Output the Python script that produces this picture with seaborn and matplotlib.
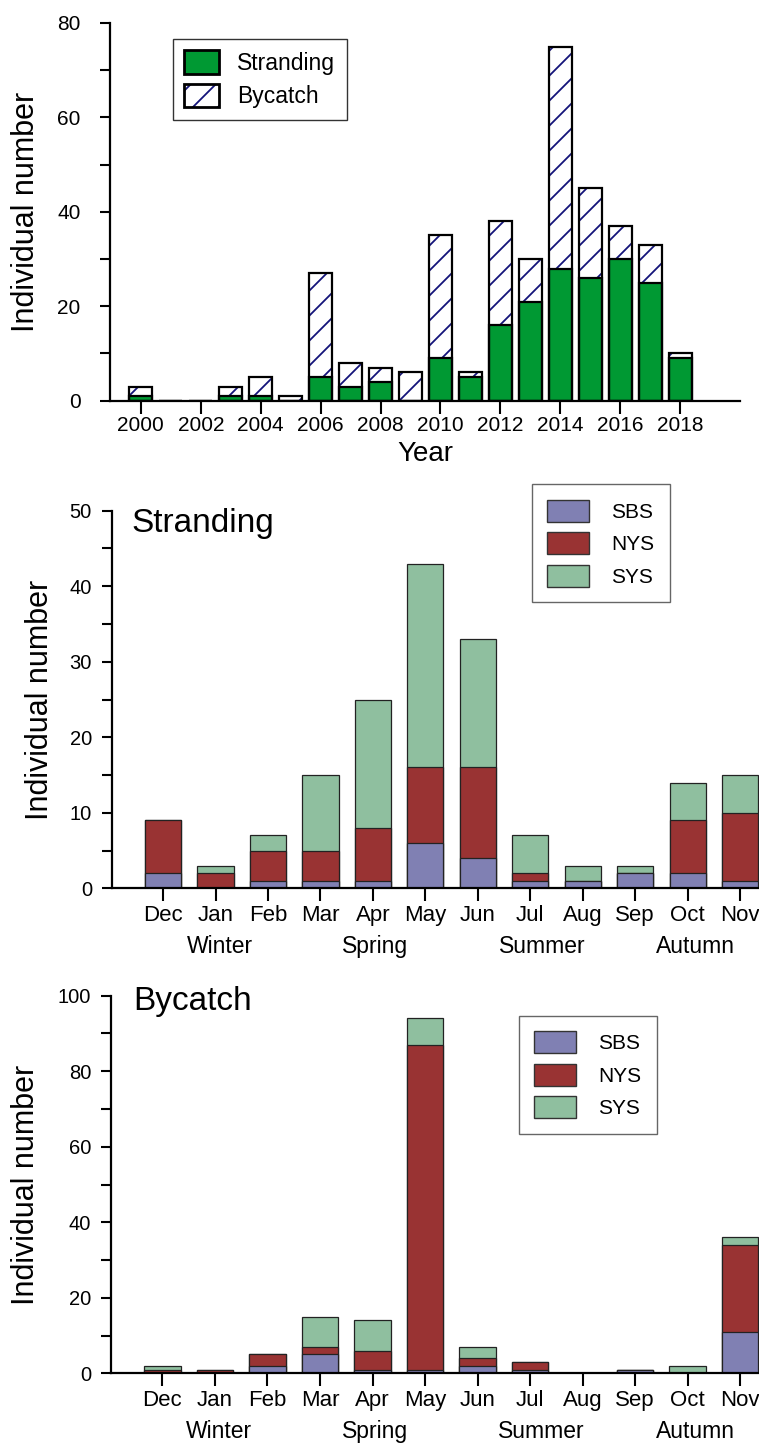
import matplotlib
matplotlib.use("Agg")
import matplotlib.pyplot as plt
import matplotlib.transforms as mtransforms
import matplotlib.hatch as mhatch
from matplotlib.patches import Patch
import pandas as pd
import seaborn as sns

# ---------------- data ----------------
years = list(range(2000, 2019))
stranding_by_year = [1, 0, 0, 1, 1, 0, 5, 3, 4, 0, 9, 5, 16, 21, 28, 26, 30, 25, 9]
bycatch_by_year = [2, 0, 0, 2, 4, 1, 22, 5, 3, 6, 26, 1, 22, 9, 47, 19, 7, 8, 1]

months = ["Dec", "Jan", "Feb", "Mar", "Apr", "May", "Jun", "Jul", "Aug", "Sep", "Oct", "Nov"]
seasons = ["Winter", "Spring", "Summer", "Autumn"]
season_pos = [1.08, 4.04, 7.22, 10.15]
regions = ["SBS", "NYS", "SYS"]

strand_sbs = [2, 0, 1, 1, 1, 6, 4, 1, 1, 2, 2, 1]
strand_nys = [7, 2, 4, 4, 7, 10, 12, 1, 0, 0, 7, 9]
strand_sys = [0, 1, 2, 10, 17, 27, 17, 5, 2, 1, 5, 5]

bycatch_sbs = [0, 0, 2, 5, 1, 1, 2, 1, 0, 1, 0, 11]
bycatch_nys = [1, 1, 3, 2, 5, 86, 2, 2, 0, 0, 0, 23]
bycatch_sys = [1, 0, 0, 8, 8, 7, 3, 0, 0, 0, 2, 2]

# ---------------- style ----------------
GREEN = "#009933"
HATCH_C = "#14147a"
REGION_COLORS = {"SBS": "#8080b3", "NYS": "#993333", "SYS": "#8fbf9f"}

# diagonal hatch with about 25 px between lines
_orig_ne_init = mhatch.NorthEastHatch.__init__


def _sparse_ne_init(self, hatch, density):
    _orig_ne_init(self, hatch, 8)


mhatch.NorthEastHatch.__init__ = _sparse_ne_init

sns.set_theme(style="ticks")
plt.rcParams["font.family"] = ["Liberation Sans", "DejaVu Sans"]
plt.rcParams["hatch.linewidth"] = 1.3
plt.rcParams["axes.linewidth"] = 1.5
for key in ("text.color", "axes.labelcolor", "xtick.color", "ytick.color",
            "axes.edgecolor"):
    plt.rcParams[key] = "black"

W, H = 759, 1445
fig = plt.figure(figsize=(W / 100, H / 100), dpi=100)


def px_axes(l, r, t, b):
    return fig.add_axes([l / W, 1 - b / H, (r - l) / W, (b - t) / H])


ax1 = px_axes(110, 740, 23, 400.7)
ax2 = px_axes(111.7, 759, 510.7, 888.3)
ax3 = px_axes(111, 759, 995.7, 1373.3)

# ---------------- top: by year ----------------
df_year = pd.DataFrame({"year": years, "stranding": stranding_by_year,
                        "bycatch": bycatch_by_year})
df_year["total"] = df_year["stranding"] + df_year["bycatch"]

sns.barplot(data=df_year, x="year", y="total", native_scale=True, width=0.77,
            color="white", saturation=1, hatch="/", edgecolor=HATCH_C,
            linewidth=0, errorbar=None, ax=ax1)
sns.barplot(data=df_year, x="year", y="stranding", native_scale=True, width=0.77,
            color=GREEN, saturation=1, edgecolor="black", linewidth=1.6,
            errorbar=None, ax=ax1)
sns.barplot(data=df_year, x="year", y="total", native_scale=True, width=0.77,
            fill=False, color="black", linewidth=1.6, errorbar=None, ax=ax1)

ax1.set_xlim(1998.97, 2020)
ax1.set_ylim(0, 80)
ax1.set_xticks(range(2000, 2019, 2))
ax1.set_xticklabels([str(y) for y in range(2000, 2019, 2)])
ax1.set_yticks(range(0, 81, 10))
ax1.set_yticklabels([str(v) if v % 20 == 0 else "" for v in range(0, 81, 10)])
ax1.set_xlabel("")
ax1.set_ylabel("")
ax1.tick_params(axis="x", length=9, width=1.5, pad=2, labelsize=15, colors="black")
ax1.tick_params(axis="y", length=7.2, width=1.5, pad=14, labelsize=15, colors="black")

h_str = Patch(facecolor=GREEN, edgecolor="black", linewidth=2)
h_byc = (Patch(facecolor="white", edgecolor=HATCH_C, hatch="/", linewidth=0),
         Patch(facecolor="none", edgecolor="black", linewidth=2))
leg1 = ax1.legend([h_str, h_byc], ["Stranding", "Bycatch"], loc="upper left",
                  bbox_to_anchor=(0.1, 0.958), borderaxespad=0, fontsize=16.5,
                  handlelength=1.5, handleheight=1.2, handletextpad=0.8,
                  labelspacing=0.4, borderpad=0.5, frameon=True, fancybox=False,
                  edgecolor="#333333", framealpha=1)
leg1.get_frame().set_linewidth(1.0)


# ---------------- monthly stacked ----------------
def stacked(ax, sbs, nys, sys_, ymax, step, title, title_xy, leg_xy):
    df = pd.DataFrame({"month": months, "SBS": sbs, "NYS": nys, "SYS": sys_})
    df["SBS+NYS"] = df["SBS"] + df["NYS"]
    df["total"] = df["SBS+NYS"] + df["SYS"]
    for col, reg in [("total", "SYS"), ("SBS+NYS", "NYS"), ("SBS", "SBS")]:
        sns.barplot(data=df, x="month", y=col, order=months, color=REGION_COLORS[reg],
                    saturation=1, width=0.69, edgecolor="#222222", linewidth=0.9,
                    errorbar=None, ax=ax)
    ax.set_xlim(-0.98, 11.36)
    ax.set_ylim(0, ymax)
    ticks = list(range(0, ymax + 1, step))
    ax.set_yticks(ticks)
    ax.set_yticklabels([str(v) if v % (2 * step) == 0 else "" for v in ticks])
    ax.set_xticks(range(len(months)))
    ax.set_xticklabels(months)
    ax.set_xlabel("")
    ax.set_ylabel("")
    ax.tick_params(axis="x", length=9, width=1.5, pad=3, labelsize=16, colors="black")
    ax.tick_params(axis="y", length=7.2, width=1.5, pad=7, labelsize=14.5, colors="black")
    trans = mtransforms.blended_transform_factory(ax.transData, ax.transAxes)
    for s, p in zip(seasons, season_pos):
        ax.text(p, -0.153, s, transform=trans, ha="center", va="center",
                fontsize=16.5, color="black")
    ax.text(title_xy[0], title_xy[1], title, transform=ax.transAxes, ha="left",
            va="baseline", fontsize=24, color="black")
    handles = [Patch(facecolor=REGION_COLORS[r], edgecolor="#333333", linewidth=1)
               for r in regions]
    leg = ax.legend(handles, regions, loc="upper left", bbox_to_anchor=leg_xy,
                    borderaxespad=0, fontsize=15, handlelength=2.0, handleheight=1.25,
                    handletextpad=1.05, labelspacing=0.5, borderpad=0.75,
                    frameon=True, fancybox=False, edgecolor="#666666", framealpha=1)
    leg.get_frame().set_linewidth(1.0)


stacked(ax2, strand_sbs, strand_nys, strand_sys, 50, 5, "Stranding",
        (0.0307, 0.944), (0.649, 1.0707))
stacked(ax3, bycatch_sbs, bycatch_nys, bycatch_sys, 100, 10, "Bycatch",
        (0.034, 0.962), (0.629, 0.947))

for ax in (ax1, ax2, ax3):
    sns.despine(ax=ax)
    for sp in ("left", "bottom"):
        ax.spines[sp].set_linewidth(1.6)
        ax.spines[sp].set_color("black")

# axis labels
fig.text(26 / W, 1 - 212 / H, "Individual number", rotation=90, ha="center",
         va="center", fontsize=22, color="black")
fig.text(40 / W, 1 - 699.5 / H, "Individual number", rotation=90, ha="center",
         va="center", fontsize=22, color="black")
fig.text(26 / W, 1 - 1184.5 / H, "Individual number", rotation=90, ha="center",
         va="center", fontsize=22, color="black")
fig.text(425 / W, 1 - 454 / H, "Year", ha="center", va="center", fontsize=20,
         color="black")

fig.savefig("out.png", dpi=100)
